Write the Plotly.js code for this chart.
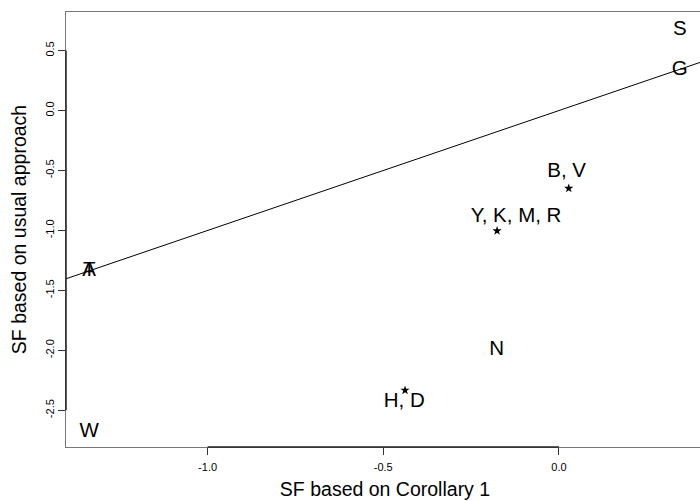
<!DOCTYPE html>
<html>
<head>
<meta charset="utf-8">
<script src="https://cdn.plot.ly/plotly-3.0.1.min.js"></script>
<style>
  html, body { margin: 0; padding: 0; background: #ffffff; overflow: hidden; }
  #chart { width: 704px; height: 501px; }
</style>
</head>
<body>
<div id="chart"></div>
<script>
// Residues plotted singly (label drawn at the point itself)
const singleLabels = ['S', 'G', 'A', 'T', 'N', 'W'];
const singleX = [0.344, 0.344, -1.337, -1.337, -0.177, -1.337];
const singleY = [0.672, 0.338, -1.340, -1.340, -1.993, -2.681];

// Residue groups sharing one point (asterisk) with a nearby label
const groupLabels = ['B, V', 'Y, K, M, R', 'H, D'];
const groupX = [0.028, -0.176, -0.438];
const groupY = [-0.649, -1.003, -2.333];
const groupLabelX = [0.022, -0.122, -0.440];
const groupLabelY = [-0.511, -0.886, -2.431];

// Reference line y = a + b x
const refIntercept = 0;
const refSlope = 1;

// Axis ticks
const xTickVals = [-1.0, -0.5, 0.0];
const yTickVals = [0.5, 0.0, -0.5, -1.0, -1.5, -2.0, -2.5];

const xRange = [-1.403, 0.413];
const yRange = [-2.806, 0.822];

const FONT = 'Liberation Sans, Arial, Helvetica, sans-serif';

const traces = [
  {
    // reference line across the whole panel
    x: xRange,
    y: xRange.map(v => refIntercept + refSlope * v),
    mode: 'lines',
    line: { color: '#000000', width: 1 },
    hoverinfo: 'skip',
    showlegend: false
  },
  {
    x: singleX,
    y: singleY,
    text: singleLabels,
    mode: 'text',
    textposition: 'middle center',
    textfont: { family: FONT, size: 20.5, color: '#000000' },
    showlegend: false,
    cliponaxis: false
  },
  {
    x: groupX,
    y: groupY,
    mode: 'markers',
    marker: { symbol: 'star', size: 7, color: '#000000', line: { width: 0 } },
    showlegend: false
  },
  {
    x: groupLabelX,
    y: groupLabelY,
    text: groupLabels,
    mode: 'text',
    textposition: 'middle center',
    textfont: { family: FONT, size: 20.5, color: '#000000' },
    showlegend: false,
    cliponaxis: false
  }
];

const layout = {
  width: 704,
  height: 501,
  margin: { l: 66, r: 0, t: 12, b: 54 },
  paper_bgcolor: '#ffffff',
  plot_bgcolor: '#ffffff',
  font: { family: FONT, color: '#000000' },
  showlegend: false,
  xaxis: {
    range: xRange,
    tickvals: xTickVals,
    ticktext: xTickVals.map(v => v.toFixed(1)),
    ticks: 'outside',
    ticklen: 7,
    tickwidth: 1,
    tickcolor: '#333333',
    ticklabelstandoff: 3,
    tickfont: { family: FONT, size: 11, color: '#000000' },
    showgrid: false,
    zeroline: false,
    showline: true,
    mirror: true,
    linecolor: '#777777',
    linewidth: 1,
    title: { text: 'SF based on Corollary 1', font: { family: FONT, size: 19.5, color: '#000000' }, standoff: 10 }
  },
  yaxis: {
    range: yRange,
    tickvals: yTickVals,
    ticktext: yTickVals.map(v => v.toFixed(1)),
    tickangle: -90,
    ticks: 'outside',
    ticklen: 7,
    tickwidth: 1,
    tickcolor: '#333333',
    tickfont: { family: FONT, size: 11, color: '#000000' },
    showgrid: false,
    zeroline: false,
    showline: true,
    mirror: true,
    linecolor: '#777777',
    linewidth: 1,
    title: { text: 'SF based on usual approach', font: { family: FONT, size: 19.5, color: '#000000' }, standoff: 11 }
  },
  shapes: [
    {
      // axis segment spanning the x ticks
      type: 'line', xref: 'x', yref: 'paper',
      x0: xTickVals[0], x1: xTickVals[xTickVals.length - 1], y0: 0, y1: 0,
      line: { color: '#222222', width: 1.5 }
    },
    {
      // axis segment spanning the y ticks
      type: 'line', xref: 'paper', yref: 'y',
      x0: 0, x1: 0, y0: yTickVals[yTickVals.length - 1], y1: yTickVals[0],
      line: { color: '#222222', width: 1.5 }
    }
  ]
};

Plotly.newPlot('chart', traces, layout, { displayModeBar: false, staticPlot: true });
</script>
</body>
</html>
